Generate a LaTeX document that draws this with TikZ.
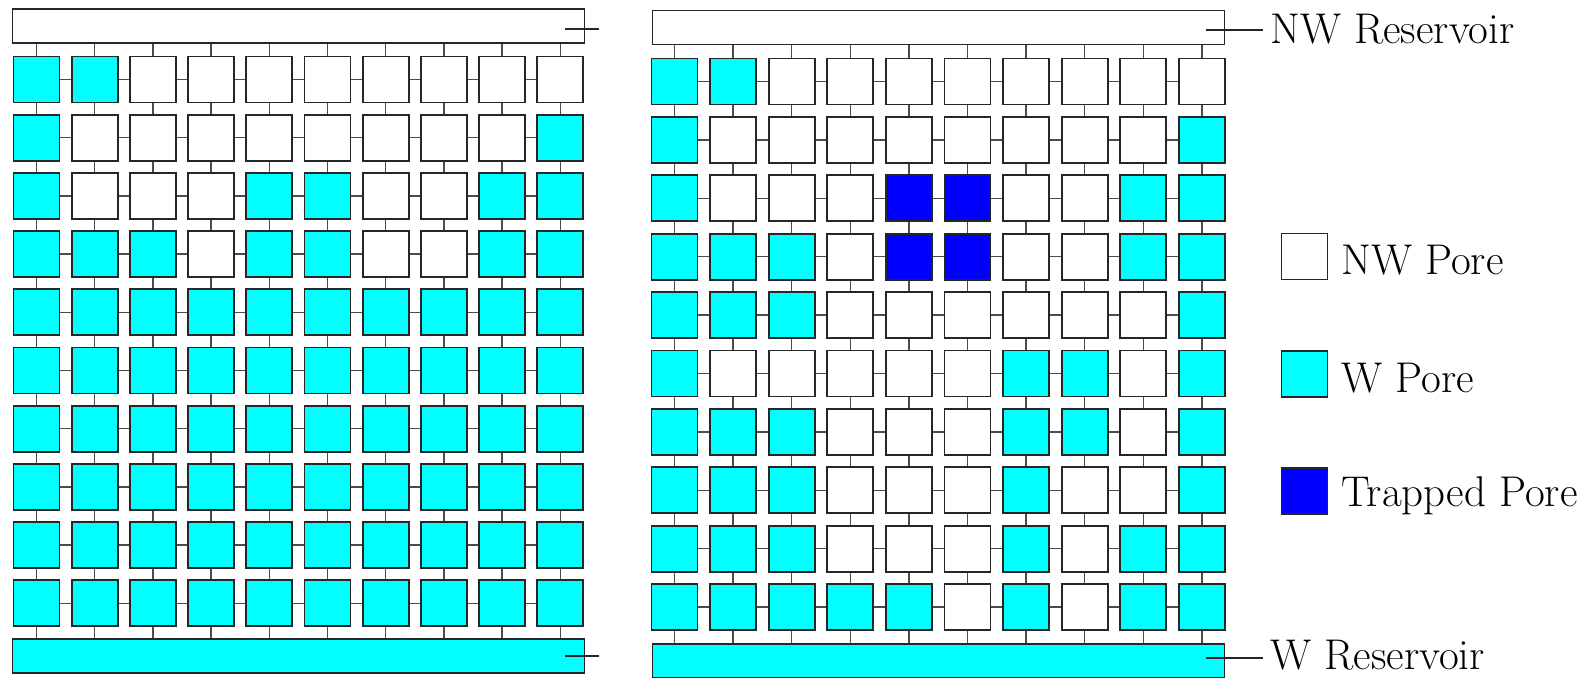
\documentclass[tikz,border=0pt]{standalone}
\usetikzlibrary{positioning}
\definecolor{porecyan}{RGB}{0,255,255}
\definecolor{poreblue}{RGB}{0,0,255}
\tikzset{
  pore/.style={draw=black!85,line width=0.9pt,minimum size=23pt,inner sep=0pt},
  pore0/.style={fill=white},
  pore1/.style={fill=porecyan},
  pore2/.style={fill=poreblue},
  reservoir/.style={draw=black!85,line width=0.9pt,minimum width=286pt,minimum height=17pt,inner sep=0pt},
  throat/.style={black!70,line width=0.7pt},
  tick/.style={black!85,line width=0.8pt},
  legendtext/.style={font=\fontsize{21.5pt}{26pt}\selectfont,inner xsep=3.5pt,inner ysep=0pt,anchor=base west},
}

\begin{document}
\begin{tikzpicture}[x=0.5pt,y=-0.5pt]
  \clip (0,0) rectangle (1582,677);
  % left network
  \node[reservoir] (Ltop) at (298.5,26) {};
  \node[reservoir,fill=porecyan] (Lbot) at (298.5,656) {};
  \foreach \row [count=\j] in {
    {1,1,0,0,0,0,0,0,0,0},{1,0,0,0,0,0,0,0,0,1},{1,0,0,0,1,1,0,0,1,1},
    {1,1,1,0,1,1,0,0,1,1},{1,1,1,1,1,1,1,1,1,1},{1,1,1,1,1,1,1,1,1,1},
    {1,1,1,1,1,1,1,1,1,1},{1,1,1,1,1,1,1,1,1,1},{1,1,1,1,1,1,1,1,1,1},
    {1,1,1,1,1,1,1,1,1,1}}
    \foreach \t [count=\i] in \row
      \node[pore,pore\t] (L-\j-\i) at ({36.5+58.2*(\i-1)},{79.5+58.2*(\j-1)}) {};
  \foreach \i in {1,...,10} {
    \draw[throat] (L-1-\i.north) -- (L-1-\i.north |- Ltop.south);
    \draw[throat] (L-10-\i.south) -- (L-10-\i.south |- Lbot.north);
  }
  \foreach \j in {1,...,10}
    \foreach \i [count=\k from 2] in {1,...,9} {
      \draw[throat] (L-\j-\i) -- (L-\j-\k);
      \draw[throat] (L-\i-\j) -- (L-\k-\j);
    }
  \coordinate (Lta) at (565,29);
  \coordinate (Ltb) at (599,29);
  \coordinate (Lba) at (565,656);
  \coordinate (Lbb) at (599,656);
  \draw[tick] (Lta) -- (Ltb);
  \draw[tick] (Lba) -- (Lbb);

  % right network, after trapping
  \node[reservoir] (Rtop) at (938.5,27.5) {};
  \node[reservoir,fill=porecyan] (Rbot) at (938.5,661) {};
  \foreach \row [count=\j] in {
    {1,1,0,0,0,0,0,0,0,0},{1,0,0,0,0,0,0,0,0,1},{1,0,0,0,2,2,0,0,1,1},
    {1,1,1,0,2,2,0,0,1,1},{1,1,1,0,0,0,0,0,0,1},{1,0,0,0,0,0,1,1,0,1},
    {1,1,1,0,0,0,1,1,0,1},{1,1,1,0,0,0,1,0,0,1},{1,1,1,0,0,0,1,0,1,1},
    {1,1,1,1,1,0,1,0,1,1}}
    \foreach \t [count=\i] in \row
      \node[pore,pore\t] (R-\j-\i) at ({674.5+58.6*(\i-1)},{81.5+58.4*(\j-1)}) {};
  \foreach \i in {1,...,10} {
    \draw[throat] (R-1-\i.north) -- (R-1-\i.north |- Rtop.south);
    \draw[throat] (R-10-\i.south) -- (R-10-\i.south |- Rbot.north);
  }
  \foreach \j in {1,...,10}
    \foreach \i [count=\k from 2] in {1,...,9} {
      \draw[throat] (R-\j-\i) -- (R-\j-\k);
      \draw[throat] (R-\i-\j) -- (R-\k-\j);
    }
  \node[legendtext] (nwres) at (1263,43) {NW Reservoir};
  \node[legendtext] (wres) at (1263,669) {W Reservoir};
  \coordinate (Rta) at (1206,30);
  \coordinate (Rba) at (1206,658);
  \draw[tick] (Rta) -- (Rta -| nwres.west);
  \draw[tick] (Rba) -- (Rba -| wres.west);

  % legend
  \node[pore,pore0] (legNW) at (1304.5,256.5) {};
  \node[pore,pore1] (legW) at (1304.5,374) {};
  \node[pore,pore2] (legT) at (1304.5,491) {};
  \node[legendtext] (txtNW) at (1334,274) {NW Pore};
  \node[legendtext] (txtW) at (1334,392) {W Pore};
  \node[legendtext] (txtT) at (1334,506) {Trapped Pore};
\end{tikzpicture}
\end{document}
